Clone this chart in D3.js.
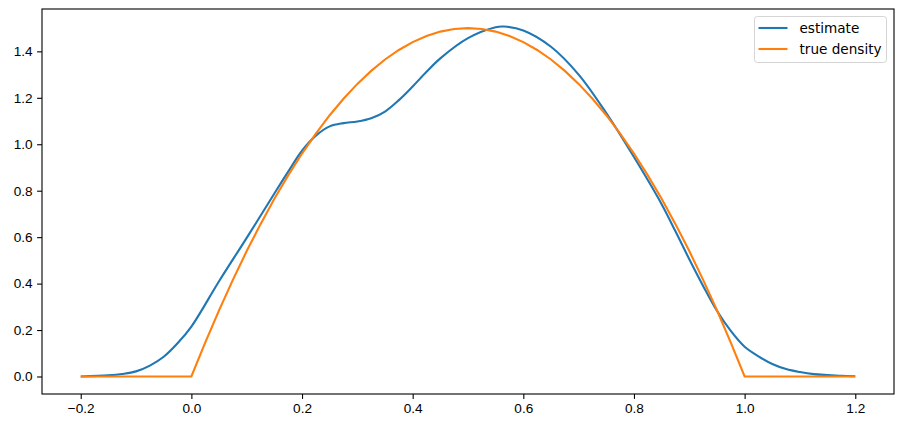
<!DOCTYPE html>
<html>
<head>
<meta charset="utf-8">
<script src="https://cdn.jsdelivr.net/npm/d3@7"></script>
<style>
  body { margin: 0; background: #fff; }
  svg { font-family: "DejaVu Sans", sans-serif; }
  .tick text { font-size: 13.6px; fill: #000; }
</style>
</head>
<body>
<div id="chart"></div>
<script>
// estimate curve
const estX = [-0.2, -0.15, -0.125, -0.1, -0.075, -0.05, -0.025, 0, 0.05, 0.1, 0.15, 0.175, 0.2, 0.225, 0.25, 0.275, 0.3,
  0.325, 0.35, 0.375, 0.4, 0.425, 0.45, 0.5, 0.55, 0.565, 0.6, 0.65, 0.7, 0.75, 0.8, 0.85, 0.875, 0.9, 0.925, 0.95, 0.975, 1.0,
  1.025, 1.05, 1.075, 1.1, 1.125, 1.15, 1.175, 1.2];
const estY = [0.0, 0.005, 0.011, 0.022, 0.047, 0.085, 0.143, 0.215, 0.41, 0.597, 0.788, 0.882, 0.972, 1.037, 1.077, 1.091, 1.098,
  1.112, 1.141, 1.19, 1.249, 1.312, 1.37, 1.457, 1.504, 1.507, 1.49, 1.42, 1.30, 1.134, 0.945, 0.742, 0.625, 0.505, 0.39, 0.283, 0.196, 0.128,
  0.087, 0.054, 0.032, 0.019, 0.01, 0.006, 0.003, 0.001];

// true density curve
const trueX = [-0.2, 0, 0.025, 0.05, 0.075, 0.1, 0.125, 0.15, 0.175, 0.2, 0.225, 0.25, 0.275, 0.3, 0.325, 0.35,
  0.375, 0.4, 0.425, 0.45, 0.475, 0.5, 0.525, 0.55, 0.575, 0.6, 0.625, 0.65, 0.675, 0.7, 0.725, 0.75,
  0.775, 0.8, 0.825, 0.85, 0.875, 0.9, 0.925, 0.95, 0.975, 1.0, 1.2];
const trueY = [0, 0, 0.146, 0.285, 0.416, 0.54, 0.656, 0.765, 0.866, 0.96, 1.046, 1.125, 1.196, 1.26, 1.316, 1.365,
  1.406, 1.44, 1.466, 1.485, 1.496, 1.5, 1.496, 1.485, 1.466, 1.44, 1.406, 1.365, 1.316, 1.26, 1.196, 1.125,
  1.046, 0.96, 0.866, 0.765, 0.656, 0.54, 0.416, 0.285, 0.146, 0, 0];

const xTicks = [-0.2, 0.0, 0.2, 0.4, 0.6, 0.8, 1.0, 1.2];
const yTicks = [0.0, 0.2, 0.4, 0.6, 0.8, 1.0, 1.2, 1.4];
const seriesNames = ["estimate", "true density"];
const colors = ["#1f77b4", "#ff7f0e"];

const width = 904, height = 428;
const margin = {top: 9, right: 10, bottom: 34, left: 42};

const svg = d3.select("#chart").append("svg")
  .attr("width", width)
  .attr("height", height);

const x = d3.scaleLinear()
  .domain([-0.27, 1.27])
  .range([margin.left, width - margin.right]);
const y = d3.scaleLinear()
  .domain([-0.0754, 1.5824])
  .range([height - margin.bottom, margin.top]);

const fmt = d3.format(".1f");

const xAxis = svg.append("g")
  .attr("transform", "translate(0," + (height - margin.bottom) + ")")
  .call(d3.axisBottom(x).tickValues(xTicks).tickFormat(fmt).tickSize(4.9).tickPadding(4.5));
const yAxis = svg.append("g")
  .attr("transform", "translate(" + margin.left + ",0)")
  .call(d3.axisLeft(y).tickValues(yTicks).tickFormat(fmt).tickSize(4.9).tickPadding(4.5));
[xAxis, yAxis].forEach(function(g) {
  g.select(".domain").remove();
  g.selectAll(".tick line").attr("stroke", "#000").attr("stroke-width", 1.1);
});

const estData = estX.map(function(d, i) { return [d, estY[i]]; });
const trueData = trueX.map(function(d, i) { return [d, trueY[i]]; });

const estLine = d3.line()
  .x(function(d) { return x(d[0]); })
  .y(function(d) { return y(d[1]); })
  .curve(d3.curveCatmullRom.alpha(0.5));
const trueLine = d3.line()
  .x(function(d) { return x(d[0]); })
  .y(function(d) { return y(d[1]); });

svg.append("path")
  .attr("d", estLine(estData))
  .attr("fill", "none")
  .attr("stroke", colors[0])
  .attr("stroke-width", 2.1);
svg.append("path")
  .attr("d", trueLine(trueData))
  .attr("fill", "none")
  .attr("stroke", colors[1])
  .attr("stroke-width", 2.1);

// frame
svg.append("rect")
  .attr("x", margin.left)
  .attr("y", margin.top)
  .attr("width", width - margin.left - margin.right)
  .attr("height", height - margin.top - margin.bottom)
  .attr("fill", "none")
  .attr("stroke", "#000")
  .attr("stroke-width", 1.1);

// legend
const legend = svg.append("g").attr("transform", "translate(754.5,16.5)");
legend.append("rect")
  .attr("width", 132)
  .attr("height", 46)
  .attr("rx", 3)
  .attr("fill", "#fff")
  .attr("fill-opacity", 0.8)
  .attr("stroke", "#d5d5d5");
seriesNames.forEach(function(name, i) {
  const row = legend.append("g").attr("transform", "translate(0," + (11.5 + i * 21) + ")");
  row.append("line")
    .attr("x1", 4).attr("x2", 33)
    .attr("stroke", colors[i])
    .attr("stroke-width", 2.1);
  row.append("text")
    .attr("x", 45)
    .attr("dy", "0.35em")
    .attr("font-size", "13.6px")
    .text(name);
});
</script>
</body>
</html>
